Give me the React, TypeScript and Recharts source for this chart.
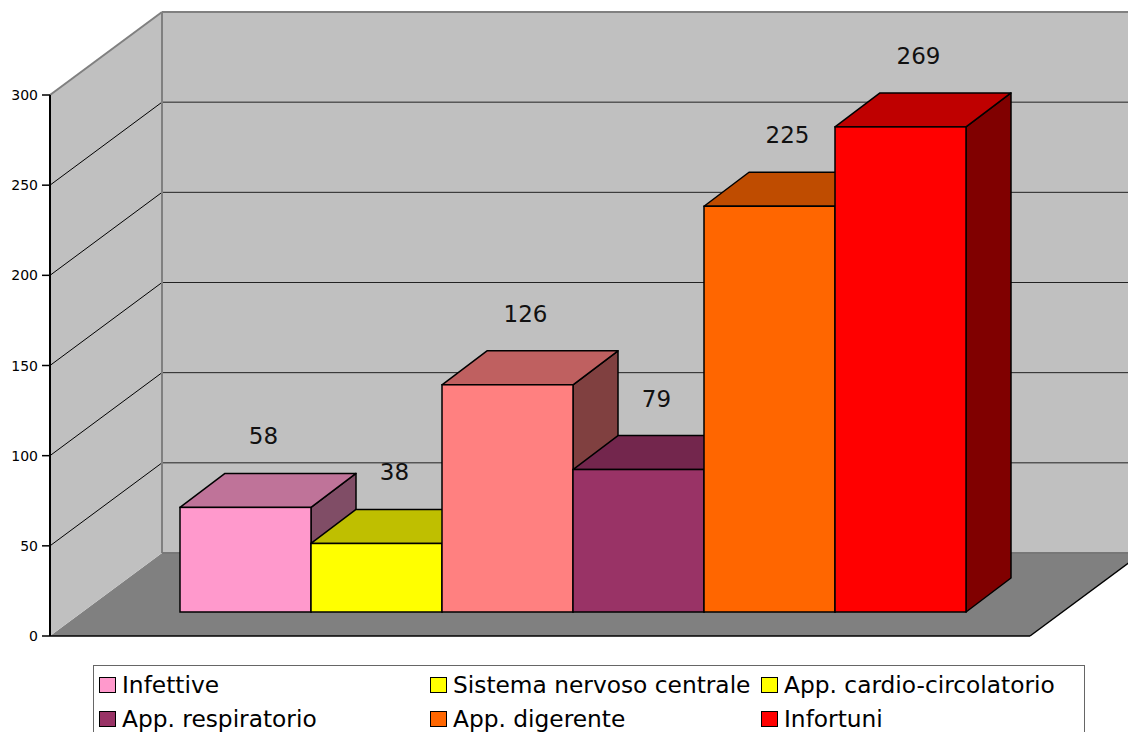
import React from "react";
import {
  BarChart,
  Bar,
  XAxis,
  YAxis,
  Legend,
  ReferenceArea,
} from "recharts";

// series shown in the chart (one category, six series)
const seriesNames = [
  "Infettive",
  "Sistema nervoso centrale",
  "App. cardio-circolatorio",
  "App. respiratorio",
  "App. digerente",
  "Infortuni",
];
const seriesValues = [58, 38, 126, 79, 225, 269];
const yTicks = [0, 50, 100, 150, 200, 250, 300];

const frontColors = ["#ff99cc", "#ffff00", "#ff8080", "#993366", "#ff6600", "#ff0000"];
const topColors = ["#bf7399", "#bfbf00", "#bf6060", "#73264d", "#bf4c00", "#bf0000"];
const sideColors = ["#804d66", "#808000", "#804040", "#4d1933", "#803300", "#800000"];
// the legend in the original uses yellow for the third entry
const legendColors = ["#ff99cc", "#ffff00", "#ffff00", "#993366", "#ff6600", "#ff0000"];

const seriesKeys = seriesNames.map((_, i) => `s${i}`);
const chartData = [
  { name: "", ...Object.fromEntries(seriesKeys.map((k, i) => [k, seriesValues[i]])) },
];

const FONT = "'DejaVu Sans', Verdana, sans-serif";

// 3d offsets relative to the plane the bars stand in
const BAR_DX = 45;
const BAR_DY = -34;
const FRONT_DX = -32;
const FRONT_DY = 24;
const BACK_DX = 80;
const BACK_DY = -59;

const Box3D = (props: any) => {
  const { x, y, width: w, height: h, index } = props;
  const i = props.seriesIndex;
  if (h == null || w == null) return null;
  const top = `${x},${y} ${x + BAR_DX},${y + BAR_DY} ${x + w + BAR_DX},${y + BAR_DY} ${x + w},${y}`;
  const side = `${x + w},${y} ${x + w + BAR_DX},${y + BAR_DY} ${x + w + BAR_DX},${y + h + BAR_DY} ${x + w},${y + h}`;
  return (
    <g key={index}>
      <polygon points={side} fill={sideColors[i]} stroke="#000" strokeWidth={1.5} strokeLinejoin="round" />
      <polygon points={top} fill={topColors[i]} stroke="#000" strokeWidth={1.5} strokeLinejoin="round" />
      <rect x={x} y={y} width={w} height={h} fill={frontColors[i]} stroke="#000" strokeWidth={1.5} />
    </g>
  );
};

const ValueLabel = (props: any) => {
  const { x, y, width, value } = props;
  return (
    <text
      x={x + width / 2 + 18}
      y={y - 63}
      textAnchor="middle"
      fontFamily={FONT}
      fontSize={23}
      fill="#111"
    >
      {value}
    </text>
  );
};

const Walls = (props: any) => {
  const { x, y, width, height } = props;
  const yb = (t: number) => y + height * (1 - t / 300);
  const fx0 = x + FRONT_DX;
  const fx1 = x + width + FRONT_DX;
  const bx0 = x + BACK_DX;
  const bx1 = x + width + BACK_DX;
  const f0 = yb(0) + FRONT_DY;
  const fTop = yb(300) + FRONT_DY;
  const b0 = yb(0) + BACK_DY;
  const bTop = yb(300) + BACK_DY;
  return (
    <g>
      <polygon points={`${fx0},${f0} ${fx1},${f0} ${bx1},${b0} ${bx0},${b0}`} fill="#808080" />
      <polygon points={`${bx0},${bTop} ${bx1},${bTop} ${bx1},${b0} ${bx0},${b0}`} fill="#c0c0c0" />
      <polygon points={`${fx0},${fTop} ${bx0},${bTop} ${bx0},${b0} ${fx0},${f0}`} fill="#c0c0c0" />
      {yTicks
        .filter((t) => t > 0 && t < 300)
        .map((t) => (
          <g key={t}>
            <line x1={fx0} y1={yb(t) + FRONT_DY} x2={bx0} y2={yb(t) + BACK_DY} stroke="#000" strokeWidth={1} />
            <line x1={bx0} y1={yb(t) + BACK_DY} x2={bx1} y2={yb(t) + BACK_DY} stroke="#222" strokeWidth={1} />
          </g>
        ))}
      {/* wall edges */}
      <line x1={fx0} y1={fTop} x2={bx0} y2={bTop} stroke="#808080" strokeWidth={2} />
      <line x1={bx0} y1={bTop} x2={bx1} y2={bTop} stroke="#808080" strokeWidth={2} />
      <line x1={bx0} y1={bTop} x2={bx0} y2={b0} stroke="#808080" strokeWidth={2} />
      <line x1={bx0} y1={b0} x2={bx1} y2={b0} stroke="#777" strokeWidth={2} />
      {/* floor front edges and the value axis */}
      <line x1={fx0} y1={f0} x2={fx1} y2={f0} stroke="#000" strokeWidth={1.5} />
      <line x1={fx1} y1={f0} x2={bx1} y2={b0} stroke="#000" strokeWidth={1.5} />
      <line x1={fx0} y1={fTop} x2={fx0} y2={f0} stroke="#000" strokeWidth={2} />
    </g>
  );
};

const AxisTick = (props: any) => {
  const { y, payload } = props;
  const fy = y + FRONT_DY;
  return (
    <g>
      <line x1={42} y1={fy} x2={50} y2={fy} stroke="#000" strokeWidth={1.5} />
      <text x={38} y={fy + 5} textAnchor="end" fontFamily={FONT} fontSize={14} fill="#000">
        {payload.value}
      </text>
    </g>
  );
};

const LegendBox = () => (
  <div
    style={{
      boxSizing: "border-box",
      width: 992,
      height: 90,
      border: "1px solid #666",
      padding: "2px 0 0 5px",
      display: "grid",
      gridTemplateColumns: "331px 331px 320px",
      gridAutoRows: "34px",
      fontFamily: FONT,
      fontSize: 23.3,
      background: "#fff",
    }}
  >
    {seriesNames.map((n, i) => (
      <div key={n} style={{ display: "flex", alignItems: "center", whiteSpace: "nowrap" }}>
        <span
          style={{
            display: "inline-block",
            boxSizing: "border-box",
            width: 17,
            height: 16,
            border: "1.5px solid #000",
            background: legendColors[i],
            marginRight: 6,
          }}
        />
        <span style={{ lineHeight: "34px" }}>{n}</span>
      </div>
    ))}
  </div>
);

export default function App() {
  return (
    <div
      style={{
        position: "absolute",
        left: 0,
        top: 0,
        width: 1128,
        height: 732,
        overflow: "hidden",
        background: "#fff",
      }}
    >
      <BarChart
        width={1128}
        height={732}
        data={chartData}
        margin={{ top: 71, right: 66, bottom: 120, left: 50 }}
        barGap={0}
        barCategoryGap="10%"
      >
        <XAxis dataKey="name" hide />
        <YAxis
          width={32}
          domain={[0, 300]}
          ticks={yTicks}
          interval={0}
          axisLine={false}
          tickLine={false}
          tick={(p: any) => <AxisTick {...p} />}
        />
        <ReferenceArea y1={0} y2={300} shape={(p: any) => <Walls {...p} />} />
        {seriesKeys.map((k, i) => (
          <Bar
            key={k}
            dataKey={k}
            name={seriesNames[i]}
            fill={frontColors[i]}
            isAnimationActive={false}
            shape={(p: any) => <Box3D {...p} seriesIndex={i} />}
            label={(p: any) => <ValueLabel {...p} />}
          />
        ))}
        <Legend
          layout="horizontal"
          verticalAlign="middle"
          align="center"
          wrapperStyle={{ left: 93, top: 665, width: 992 }}
          content={() => <LegendBox />}
        />
      </BarChart>
    </div>
  );
}
